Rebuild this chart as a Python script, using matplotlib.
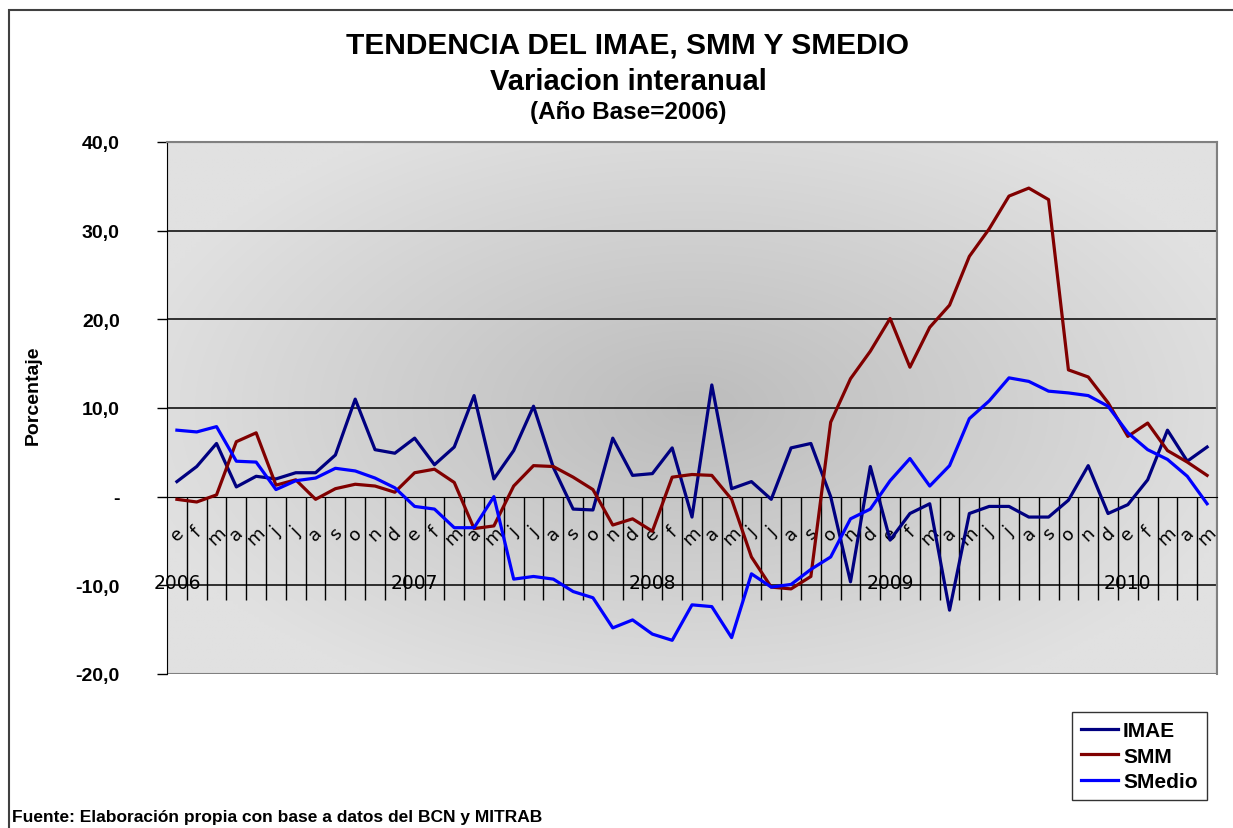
import numpy as np
import matplotlib
matplotlib.use("Agg")
from matplotlib import pyplot as plt
from matplotlib.ticker import FixedLocator, FuncFormatter
from matplotlib.patches import Rectangle

# categorias: meses ene-2006 .. may-2010
months = list("efmamjjasond") * 4 + list("efmam")
years = ["2006", "2007", "2008", "2009", "2010"]

imae = [1.7, 3.4, 6.0, 1.1, 2.3, 2.0, 2.7, 2.7, 4.7, 11.0,
        5.3, 4.9, 6.6, 3.6, 5.6, 11.4, 2.0, 5.2, 10.2, 3.3,
        -1.4, -1.5, 6.6, 2.4, 2.6, 5.5, -2.3, 12.6, 0.9, 1.7,
        -0.3, 5.5, 6.0, 0.0, -9.6, 3.4, -4.9, -1.9, -0.8, -12.8,
        -1.9, -1.1, -1.1, -2.3, -2.3, -0.4, 3.5, -1.9, -0.9, 1.9,
        7.5, 4.0, 5.6]
smm = [-0.3, -0.6, 0.2, 6.2, 7.2, 1.3, 1.9, -0.3, 0.9, 1.4,
       1.2, 0.5, 2.7, 3.1, 1.6, -3.6, -3.3, 1.2, 3.5, 3.4,
       2.2, 0.8, -3.2, -2.5, -3.9, 2.2, 2.5, 2.4, -0.3, -6.8,
       -10.2, -10.4, -9.0, 8.4, 13.3, 16.4, 20.1, 14.6, 19.1, 21.6,
       27.1, 30.2, 33.9, 34.8, 33.5, 14.3, 13.5, 10.6, 6.8, 8.3,
       5.2, 3.9, 2.4]
smedio = [7.5, 7.3, 7.9, 4.0, 3.9, 0.8, 1.8, 2.1, 3.2, 2.9,
          2.1, 1.0, -1.1, -1.4, -3.5, -3.5, 0.0, -9.3, -9.0, -9.3,
          -10.7, -11.4, -14.8, -13.9, -15.5, -16.2, -12.2, -12.4, -15.9, -8.7,
          -10.2, -9.9, -8.2, -6.8, -2.5, -1.4, 1.8, 4.3, 1.2, 3.5,
          8.8, 10.8, 13.4, 13.0, 11.9, 11.7, 11.4, 10.2, 7.2, 5.3,
          4.2, 2.3, -0.8]

W, H = 1233, 829
fig = plt.figure(figsize=(W / 100, H / 100), dpi=100)
ax = fig.add_axes([167 / W, 1 - 675 / H, 1050 / W, 532 / H])

# fondo degradado del area de trazado
gy, gx = np.mgrid[0:1:200j, 0:1:200j]
d = np.clip(np.sqrt(((gx - 0.5) / 0.55) ** 2 + ((gy - 0.5) / 0.6) ** 2), 0, 1)
shade = (188 + (225 - 188) * d) / 255
ax.imshow(np.dstack([shade, shade, shade]), extent=[0, 1, 0, 1],
          transform=ax.transAxes, aspect="auto", zorder=0, interpolation="bilinear")
ax.patch.set_alpha(0)

x = np.arange(len(months))
ax.plot(x, imae, color="#000080", lw=2.3, label="IMAE", zorder=4)
ax.plot(x, smm, color="#800000", lw=2.3, label="SMM", zorder=4)
ax.plot(x, smedio, color="#0000FF", lw=2.3, label="SMedio", zorder=4)

ax.set_xlim(-0.5, len(months) - 0.5)
ax.set_ylim(-20, 40)

# rejilla horizontal
for v in [-10, 10, 20, 30]:
    ax.axhline(v, color="black", lw=1.1, zorder=1)

# eje y
ax.set_yticks([-20, -10, 0, 10, 20, 30, 40])
ax.yaxis.set_major_formatter(FuncFormatter(
    lambda v, p: "-" if v == 0 else f"{v:.1f}".replace(".", ",")))
ax.tick_params(axis="y", length=7, width=1, pad=27, labelsize=14)
for t in ax.get_yticklabels():
    t.set_fontweight("bold")
    t.set_fontfamily("Liberation Sans")
ax.set_ylabel("Porcentaje", fontsize=14, fontweight="bold",
              family=["Liberation Sans Narrow", "Liberation Sans"])
ax.yaxis.set_label_coords(42 / W, 1 - 395 / H, transform=fig.transFigure)

# eje de categorias cruzando en cero
ax.spines["bottom"].set_position(("data", 0))
ax.spines["bottom"].set_color("black")
ax.spines["bottom"].set_zorder(3)
ax.spines["left"].set_color("black")
ax.spines["top"].set_color("#808080")
ax.spines["right"].set_color("#808080")
ax.spines["top"].set_linewidth(1.5)
ax.spines["right"].set_linewidth(1.5)
ax.add_patch(Rectangle((0, 0), 1, 1, transform=ax.transAxes, fill=False,
                       edgecolor="#808080", lw=1.5, zorder=2))

ax.xaxis.set_major_locator(FixedLocator(x[:-1] + 0.5))
ax.xaxis.set_minor_locator(FixedLocator(x))
ax.xaxis.set_major_formatter(FuncFormatter(lambda v, p: ""))
ax.xaxis.set_minor_formatter(FuncFormatter(lambda v, p: months[int(round(v))]))
ax.tick_params(axis="x", which="major", direction="out", length=74, width=1, color="black")
ax.tick_params(axis="x", which="minor", length=0, pad=19, labelsize=13, labelrotation=45)
for t in ax.get_xticklabels(minor=True):
    t.set_family("DejaVu Sans")

for k, yr in enumerate(years):
    ax.text(12 * k, -9.7, yr, ha="center", va="center", fontsize=13.5,
            family="DejaVu Sans", zorder=5, clip_on=False)

# titulos
fig.text(627 / W, 1 - 45 / H, "TENDENCIA DEL IMAE, SMM Y SMEDIO", ha="center", va="center",
         fontsize=21.5, fontweight="bold", family="Liberation Sans")
fig.text(628 / W, 1 - 82 / H, "Variacion interanual", ha="center", va="center",
         fontsize=21, fontweight="bold", family="Liberation Sans")
fig.text(628 / W, 1 - 113 / H, "(Año Base=2006)", ha="center", va="center",
         fontsize=17.5, fontweight="bold", family="Liberation Sans")
fig.text(12 / W, 1 - 818 / H, "Fuente: Elaboración propia con base a datos del BCN y MITRAB",
         ha="left", va="center", fontsize=12.5, fontweight="bold",
         family=["Liberation Sans Narrow", "Liberation Sans"])

leg = ax.legend(loc="upper left", bbox_to_anchor=(1072 / W, 1 - 713 / H),
                bbox_transform=fig.transFigure, frameon=True, fancybox=False,
                edgecolor="black", handlelength=1.75, labelspacing=0.3,
                borderpad=0.45, handletextpad=0.25, borderaxespad=0,
                prop={"family": "Liberation Sans", "weight": "bold", "size": 15})
leg.get_frame().set_linewidth(1.0)

# marco exterior del grafico
fig.patches.append(Rectangle((9 / W, -0.05), 1.1, 1 - 11 / H + 0.05, transform=fig.transFigure,
                             fill=False, edgecolor="#404040", lw=1.5))

fig.savefig("out.png", dpi=100)
